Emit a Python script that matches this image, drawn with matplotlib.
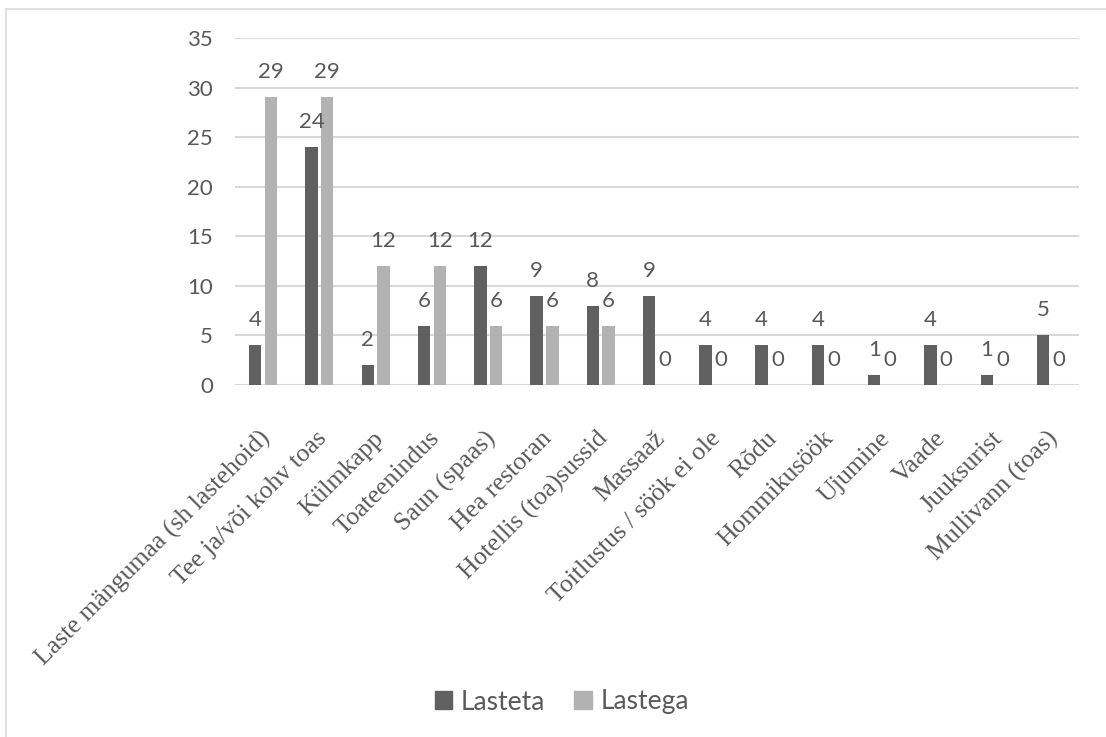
import matplotlib
matplotlib.use("Agg")
import matplotlib.pyplot as plt
from matplotlib.patches import Rectangle, Patch
import numpy as np

categories = [
    "Laste mängumaa (sh lastehoid)", "Tee ja/või kohv toas", "Külmkapp",
    "Toateenindus", "Saun (spaas)", "Hea restoran", "Hotellis (toa)sussid",
    "Massaaž", "Toitlustus / söök ei ole", "Rõdu", "Hommikusöök",
    "Ujumine", "Vaade", "Juuksurist", "Mullivann (toas)",
]
lasteta = [4, 24, 2, 6, 12, 9, 8, 9, 4, 4, 4, 1, 4, 1, 5]
lastega = [29, 29, 12, 12, 6, 6, 6, 0, 0, 0, 0, 0, 0, 0, 0]
series_names = ["Lasteta", "Lastega"]
yticks = [0, 5, 10, 15, 20, 25, 30, 35]

DARK = "#606060"
LIGHT = "#b2b2b2"
GRID = "#d9d9d9"
TEXT = "#595959"
SANS = "Lato"
SERIF = "Liberation Serif"

W, H = 1106, 737
fig = plt.figure(figsize=(W / 100, H / 100), dpi=100)
fig.patch.set_facecolor("white")

# outer chart frame (only top and left edges fall inside the image)
fig.patches.append(Rectangle((6 / W, -0.1), 1.2, 1.1 - 8.5 / H,
                             transform=fig.transFigure, fill=False,
                             edgecolor=GRID, linewidth=1.2))

ax = fig.add_axes([235 / W, 1 - 385 / H, 844 / W, 347 / H])
x = np.arange(len(categories))
off = 0.14
bw = 0.22
b1 = ax.bar(x - off, lasteta, bw, color=DARK, zorder=3)
b2 = ax.bar(x + off, lastega, bw, color=LIGHT, zorder=3)

ax.set_xlim(-0.5, len(categories) - 0.5)
ax.set_ylim(0, 35)
ax.set_yticks(yticks)
ax.set_yticklabels([str(t) for t in yticks], fontfamily=SANS, fontsize=16,
                   color=TEXT)
ax.tick_params(axis="y", length=0, pad=16)
ax.set_xticks([])
for s in ax.spines.values():
    s.set_visible(False)
for t in yticks:
    ax.axhline(t, color=GRID, linewidth=1.5, zorder=1)

for bars, vals in ((b1, lasteta), (b2, lastega)):
    for rect, v in zip(bars, vals):
        ax.annotate(str(v), (rect.get_x() + rect.get_width() / 2, v),
                    xytext=(0, 18), textcoords="offset points",
                    ha="center", va="center", fontfamily=SANS, fontsize=16,
                    color=TEXT, zorder=4)

for i, name in enumerate(categories):
    ax.annotate(name, (i, 0), xycoords=("data", "data"),
                xytext=(3, -36), textcoords="offset points",
                rotation=45, rotation_mode="anchor", ha="right", va="center",
                fontfamily=SERIF, fontsize=18.5, color=TEXT,
                annotation_clip=False)

handles = [Patch(color=DARK, label=series_names[0]),
           Patch(color=LIGHT, label=series_names[1])]
fig.legend(handles=handles, loc="center", bbox_to_anchor=(562 / W, 1 - 702 / H),
           ncol=2, frameon=False, prop={"family": SANS, "size": 19},
           labelcolor=TEXT, handlelength=0.65, handleheight=0.65,
           handletextpad=0.35, columnspacing=1.1)

fig.savefig("out.png", dpi=100, facecolor="white")
